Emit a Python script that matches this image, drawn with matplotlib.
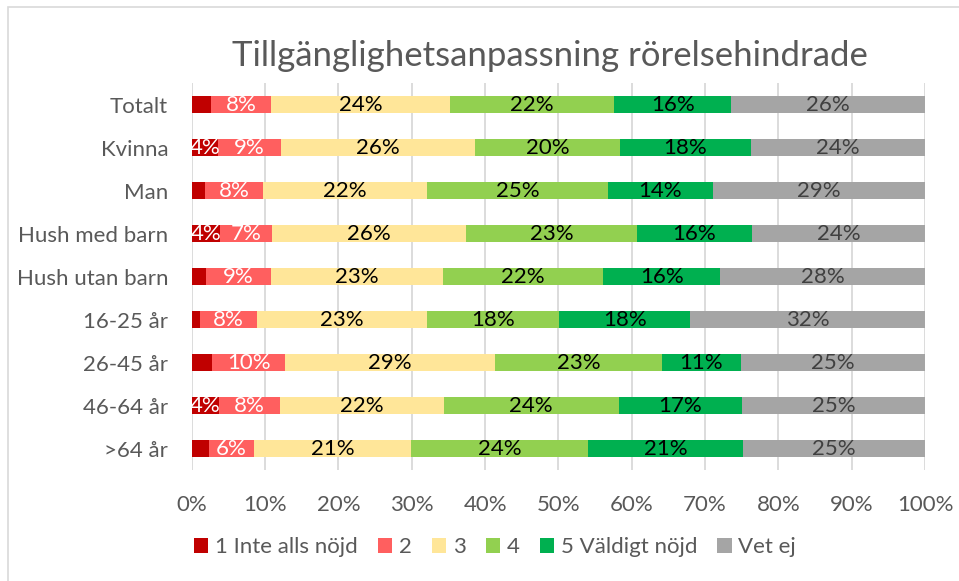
import numpy as np
import matplotlib
matplotlib.use("Agg")
from matplotlib import pyplot as plt
from matplotlib.patches import Rectangle


categories = ["Totalt", "Kvinna", "Man", "Hush med barn", "Hush utan barn",
              "16-25 år", "26-45 år", "46-64 år", ">64 år"]
series_names = ["1 Inte alls nöjd", "2", "3", "4", "5 Väldigt nöjd", "Vet ej"]

# andel i procent per kategori (avläst)
s1 = [2.6, 3.6, 1.8, 3.8, 2.0, 1.1, 2.8, 3.7, 2.3]
s2 = [8.2, 8.6, 7.9, 7.2, 8.8, 7.8, 9.9, 8.3, 6.2]
s3 = [24.4, 26.4, 22.4, 26.4, 23.4, 23.2, 28.7, 22.4, 21.4]
s4 = [22.4, 19.8, 24.6, 23.3, 21.9, 18.0, 22.7, 23.8, 24.1]
s5 = [16.0, 17.8, 14.4, 15.7, 16.0, 17.9, 10.8, 16.9, 21.2]
s6 = [26.4, 23.8, 28.9, 23.6, 27.9, 32.0, 25.1, 24.9, 24.8]

colors = ["#C00000", "#FF5F5F", "#FFE699", "#92D050", "#00B050", "#A5A5A5"]
label_colors = ["white", "white", "black", "black", "black", "#404040"]

plt.rcParams['font.family'] = ['Lato', 'DejaVu Sans']

fig = plt.figure(figsize=(9.59, 5.81), dpi=100)
ax = fig.add_axes([0.2, 0.191, 0.7646, 0.666])

data = np.array([s1, s2, s3, s4, s5, s6])
y = np.arange(len(categories))
left = np.zeros(len(categories))
for i, vals in enumerate(data):
    ax.barh(y, vals, left=left, height=0.41, color=colors[i],
            label=series_names[i], zorder=3)
    for yy, l, v in zip(y, left, vals):
        # de minsta staplarna saknar etikett i originalet
        if round(v) < 4:
            continue
        t = ax.text(l + v / 2, yy, f"{round(v)}%", ha="center", va="center",
                    color=label_colors[i], fontsize=16, zorder=4)
        t.set_clip_on(True)
    left += vals

ax.set_xlim(0, 100)
ax.set_ylim(len(categories) - 0.5, -0.5)
ax.set_xticks(np.arange(0, 101, 10))
ax.set_xticklabels([f"{v}%" for v in range(0, 101, 10)])
ax.set_yticks(y)
ax.set_yticklabels(categories)
ax.tick_params(axis="both", length=0, labelsize=16, colors="#595959")
ax.tick_params(axis="x", pad=18)
ax.tick_params(axis="y", pad=17)
ax.grid(axis="x", color="#D9D9D9", linewidth=1.3, zorder=0)
for s in ax.spines.values():
    s.set_visible(False)

fig.text(0.573, 0.903, "Tillgänglighetsanpassning rörelsehindrade",
         ha="center", va="center", fontsize=25, color="#595959")

ax.legend(loc="center", bbox_to_anchor=(0.516, 1 - 547 / 581), bbox_transform=fig.transFigure,
          ncol=6, frameon=False, fontsize=16, handlelength=0.65, handleheight=0.65,
          handletextpad=0.3, columnspacing=0.9, labelcolor="#595959")

fig.patches.append(Rectangle((8 / 959, -0.1), 1.2, 1 - 7 / 581 + 0.1,
                             transform=fig.transFigure, fill=False,
                             edgecolor="#D9D9D9", linewidth=1.2))

fig.savefig("out.png", dpi=100)
